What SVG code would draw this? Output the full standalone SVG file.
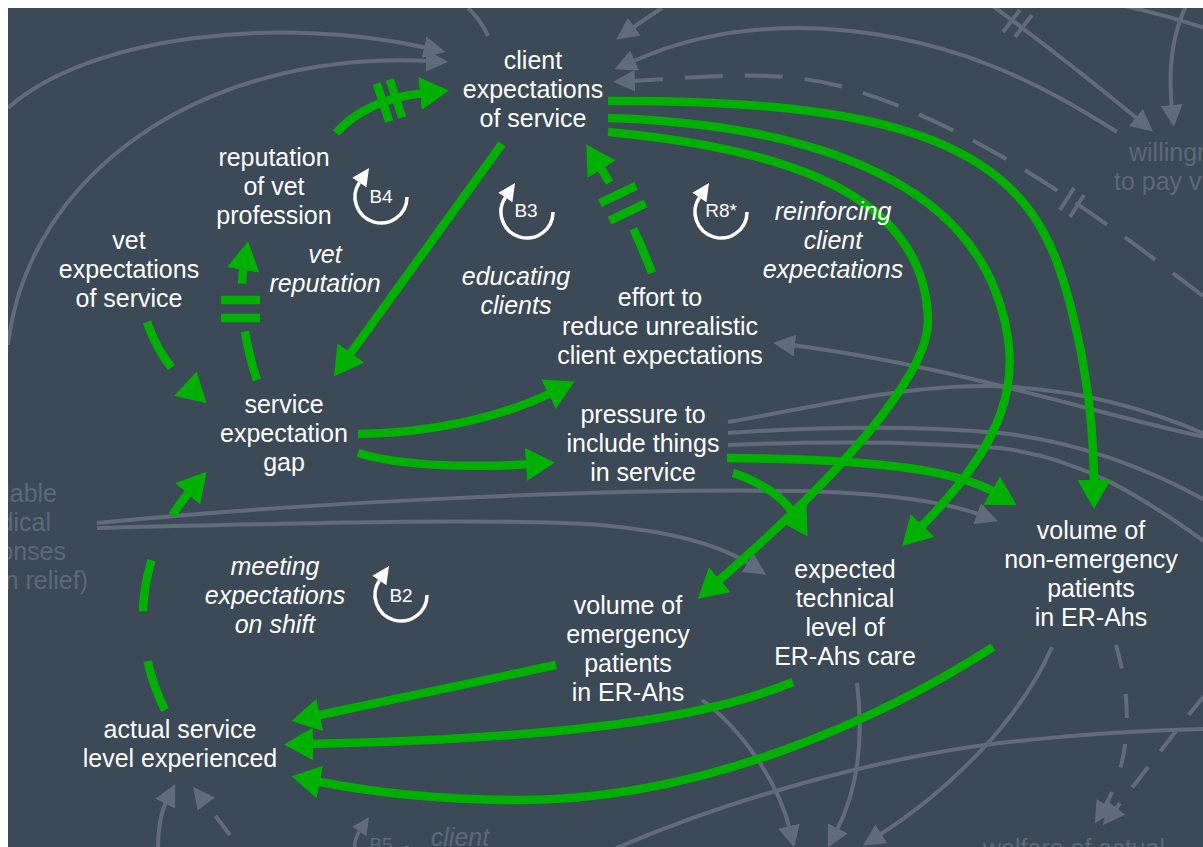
<svg xmlns="http://www.w3.org/2000/svg" width="1203" height="847" viewBox="0 0 1203 847">
<style>
  text{font-family:"Liberation Sans",Arial,Helvetica,sans-serif;font-size:25px;text-anchor:middle}
  .node text{fill:#ffffff}
  .loopname{fill:#ffffff;font-style:italic}
  .faded{fill:#5c6977}
  .lp{font-size:19px}
  .gl{fill:none;stroke:#00b000;stroke-width:8.5}
  .gr{fill:none;stroke:#606c7a;stroke-width:4}
  .bar{stroke:#00b000;stroke-width:8.5}
  .gbar{stroke:#606c7a;stroke-width:4}
</style>
<defs>
  <clipPath id="frame"><rect x="8" y="8" width="1195" height="839"/></clipPath>
  <marker id="ga" viewBox="0 0 29 33" refX="5" refY="16.5" markerWidth="29" markerHeight="33" markerUnits="userSpaceOnUse" orient="auto">
    <path d="M0,0 L29,16.5 L0,33 z" fill="#00b000"/>
  </marker>
  <marker id="gra" viewBox="0 0 22 22" refX="4" refY="11" markerWidth="22" markerHeight="22" markerUnits="userSpaceOnUse" orient="auto">
    <path d="M0,0 L22,11 L0,22 z" fill="#606c7a"/>
  </marker>
  <!-- loop direction symbol: clockwise arc with arrowhead -->
  <g id="loop">
    <path d="M26,0 A26,26 0 1 1 -21.6,-14.5" fill="none" stroke-width="3.5"/>
    <polygon points="-12,-29 -28.6,-19.2 -14.6,-9.8" stroke="none"/>
  </g>
</defs>

<rect x="0" y="0" width="1203" height="847" fill="#ffffff"/>
<rect x="8" y="8" width="1195" height="839" fill="#3c4956"/>

<g id="connectors" clip-path="url(#frame)">
  <!-- background links -->
  <g id="grey-links">
    <path class="gr" d="M8,108 C90,35 280,15 428,48" marker-end="url(#gra)"/>
    <path class="gr" d="M8,345 C28,175 200,50 430,61" marker-end="url(#gra)"/>
    <path class="gr" d="M468,8 Q481,20 488,36"/>
    <path class="gr" d="M662,8 Q648,17 631,29" marker-end="url(#gra)"/>
    <path class="gr" d="M1117,132 C1050,90 950,30 800,28 C720,28 670,45 631,62" marker-end="url(#gra)"/>
    <path class="gr" d="M1203,296 C1110,225 980,125 840,86 C770,68 700,78 631,81" stroke-dasharray="38 22" marker-end="url(#gra)"/>
    <line class="gbar" x1="1060" y1="210" x2="1074" y2="188"/>
    <line class="gbar" x1="1070" y1="217" x2="1084" y2="195"/>
    <path class="gr" d="M990,4 Q1060,55 1139,120" marker-end="url(#gra)"/>
    <line class="gbar" x1="1003" y1="32" x2="1020" y2="10"/>
    <line class="gbar" x1="1015" y1="37" x2="1032" y2="15"/>
    <path class="gr" d="M1186,6 C1172,35 1168,70 1172,109" marker-end="url(#gra)"/>
    <path class="gr" d="M1125,6 Q1165,15 1205,28"/>
    <path class="gr" d="M1205,437 C1100,415 950,365 791,345" marker-end="url(#gra)"/>
    <path class="gr" d="M728,422 C800,410 900,385 990,386 C1080,388 1150,410 1205,434"/>
    <path class="gr" d="M728,433 C800,428 900,424 1000,433 C1080,442 1150,470 1205,500"/>
    <path class="gr" d="M728,445 C800,442 900,440 1000,448 C1080,458 1140,495 1205,542"/>
    <path class="gr" d="M97,523 C300,503 600,488 800,491 C880,493 940,500 981,515" marker-end="url(#gra)"/>
    <path class="gr" d="M97,528 C300,523 500,518 600,525 C680,532 725,548 751,565" marker-end="url(#gra)"/>
    <path class="gr" d="M1052,647 C1020,720 950,790 878,836" marker-end="url(#gra)"/>
    <path class="gr" d="M1116,645 C1132,700 1132,760 1104,808" stroke-dasharray="24 26" marker-end="url(#gra)"/>
    <path class="gr" d="M1205,695 C1180,725 1150,765 1114,811" stroke-dasharray="26 20" marker-end="url(#gra)"/>
    <path class="gr" d="M857,683 C864,740 858,790 836,832" marker-end="url(#gra)"/>
    <path class="gr" d="M702,700 C740,728 778,780 790,830" marker-end="url(#gra)"/>
    <path class="gr" d="M612,850 C750,790 900,755 1000,743 C1080,734 1150,730 1205,729"/>
    <path class="gr" d="M158,850 Q158,818 167,800" marker-end="url(#gra)"/>
    <path class="gr" d="M230,835 L204,801" stroke-dasharray="24 40" marker-end="url(#gra)"/>
  </g>

  <!-- highlighted links -->
  <g id="green-links">
    <!-- reputation -> client expectations (delayed) -->
    <path class="gl" d="M336,133 C355,112 385,97 425,93" marker-end="url(#ga)"/>
    <line class="bar" x1="376.8" y1="83.5" x2="389.2" y2="121.5"/>
    <line class="bar" x1="389.8" y1="79.5" x2="402.2" y2="117.5"/>
    <!-- client expectations -> service expectation gap -->
    <path class="gl" d="M502,144 L348,357" marker-end="url(#ga)"/>
    <!-- effort -> client expectations (delayed) -->
    <path class="gl" d="M652,273 Q630,215 599,165" stroke-dasharray="48 52 100" marker-end="url(#ga)"/>
    <line class="bar" x1="600" y1="203.2" x2="636" y2="185.8"/>
    <line class="bar" x1="609.5" y1="220.7" x2="645.5" y2="203.3"/>
    <!-- vet expectations -> gap -->
    <path class="gl" d="M147,322 Q160,360 189,387" stroke-dasharray="52 100" marker-end="url(#ga)"/>
    <!-- gap -> reputation (delayed) -->
    <path class="gl" d="M257,380 C245,345 238,300 244,265" stroke-dasharray="50 48 100" marker-end="url(#ga)"/>
    <line class="bar" x1="221" y1="300" x2="260" y2="300"/>
    <line class="bar" x1="221" y1="318" x2="260" y2="318"/>
    <!-- gap -> effort, gap -> pressure -->
    <path class="gl" d="M358,434 C430,433 500,418 553,392" marker-end="url(#ga)"/>
    <path class="gl" d="M358,453 C400,466 470,468 531,464" marker-end="url(#ga)"/>
    <!-- client expectations -> volumes and technical level -->
    <path class="gl" d="M608,101 C850,100 990,130 1045,235 C1067,277 1094,380 1094,485" marker-end="url(#ga)"/>
    <path class="gl" d="M608,118 C800,124 950,175 995,290 C1030,380 1002,445 919,529" marker-end="url(#ga)"/>
    <path class="gl" d="M608,132 C800,150 925,200 928,320 C929,360 880,440 716,583" marker-end="url(#ga)"/>
    <!-- pressure -> non-emergency, pressure -> technical level -->
    <path class="gl" d="M727,458 C850,459 950,466 996,493" marker-end="url(#ga)"/>
    <path class="gl" d="M733,473 C760,482 782,495 795,516" marker-end="url(#ga)"/>
    <!-- into actual service level -->
    <path class="gl" d="M556,665 L315,716" marker-end="url(#ga)"/>
    <path class="gl" d="M793,682 C720,712 600,738 308,744" marker-end="url(#ga)"/>
    <path class="gl" d="M993,647 C880,720 700,800 520,800 C430,800 360,790 315,781" marker-end="url(#ga)"/>
    <!-- actual service level -> gap -->
    <path class="gl" d="M165,710 C130,640 135,555 191,490" stroke-dasharray="52 50" marker-end="url(#ga)"/>
  </g>
</g>

<g id="loops" clip-path="url(#frame)">
  <use href="#loop" x="381" y="197" stroke="#ffffff" fill="#ffffff"/>
  <text class="lp" x="381" y="203" fill="#ffffff">B4</text>
  <use href="#loop" x="527" y="212" stroke="#ffffff" fill="#ffffff"/>
  <text class="lp" x="526" y="217" fill="#ffffff">B3</text>
  <use href="#loop" x="721" y="212" stroke="#ffffff" fill="#ffffff"/>
  <text class="lp" x="721" y="217" fill="#ffffff">R8*</text>
  <use href="#loop" x="401" y="595" stroke="#ffffff" fill="#ffffff"/>
  <text class="lp" x="401" y="602" fill="#ffffff">B2</text>
  <use href="#loop" x="381" y="846" stroke="#606c7a" fill="#606c7a"/>
  <text class="lp faded" x="381" y="851">B5</text>

  <text class="loopname"><tspan x="325" y="263">vet</tspan><tspan x="325" y="292">reputation</tspan></text>
  <text class="loopname"><tspan x="516" y="285">educating</tspan><tspan x="516" y="314">clients</tspan></text>
  <text class="loopname"><tspan x="833" y="220">reinforcing</tspan><tspan x="833" y="249">client</tspan><tspan x="833" y="278">expectations</tspan></text>
  <text class="loopname"><tspan x="275" y="575">meeting</tspan><tspan x="275" y="604">expectations</tspan><tspan x="275" y="633">on shift</tspan></text>
  <text class="faded" font-style="italic" x="460" y="846">client</text>
</g>

<g id="client-expectations" class="node"><text><tspan x="533" y="69">client</tspan><tspan x="533" y="98">expectations</tspan><tspan x="533" y="127">of service</tspan></text></g>
<g id="vet-reputation" class="node"><text><tspan x="274" y="166">reputation</tspan><tspan x="274" y="195">of vet</tspan><tspan x="274" y="224">profession</tspan></text></g>
<g id="vet-expectations" class="node"><text><tspan x="129" y="249">vet</tspan><tspan x="129" y="278">expectations</tspan><tspan x="129" y="307">of service</tspan></text></g>
<g id="service-gap" class="node"><text><tspan x="284" y="413">service</tspan><tspan x="284" y="442">expectation</tspan><tspan x="284" y="471">gap</tspan></text></g>
<g id="effort" class="node"><text><tspan x="660" y="306">effort to</tspan><tspan x="660" y="335">reduce unrealistic</tspan><tspan x="660" y="364">client expectations</tspan></text></g>
<g id="pressure" class="node"><text><tspan x="643" y="423">pressure to</tspan><tspan x="643" y="452">include things</tspan><tspan x="643" y="481">in service</tspan></text></g>
<g id="non-emergency" class="node"><text><tspan x="1091" y="539">volume of</tspan><tspan x="1091" y="568">non-emergency</tspan><tspan x="1091" y="597">patients</tspan><tspan x="1091" y="626">in ER-Ahs</tspan></text></g>
<g id="technical-level" class="node"><text><tspan x="845" y="578">expected</tspan><tspan x="845" y="607">technical</tspan><tspan x="845" y="636">level of</tspan><tspan x="845" y="665">ER-Ahs care</tspan></text></g>
<g id="emergency" class="node"><text><tspan x="628" y="614">volume of</tspan><tspan x="628" y="643">emergency</tspan><tspan x="628" y="672">patients</tspan><tspan x="628" y="701">in ER-Ahs</tspan></text></g>
<g id="actual-service" class="node"><text><tspan x="180" y="738">actual service</tspan><tspan x="180" y="767">level experienced</tspan></text></g>

<g id="willingness" clip-path="url(#frame)"><text class="faded" style="text-anchor:start"><tspan x="1129" y="161">willingn</tspan><tspan x="1114" y="190">to pay v</tspan></text></g>
<g id="medical-responses" clip-path="url(#frame)"><text class="faded" style="text-anchor:end"><tspan x="57" y="502">lable</tspan><tspan x="51" y="531">dical</tspan><tspan x="66" y="560">onses</tspan><tspan x="88" y="589">n relief)</tspan></text></g>
<g id="welfare" clip-path="url(#frame)"><text class="faded" x="1074" y="857">welfare of actual</text></g>
</svg>
